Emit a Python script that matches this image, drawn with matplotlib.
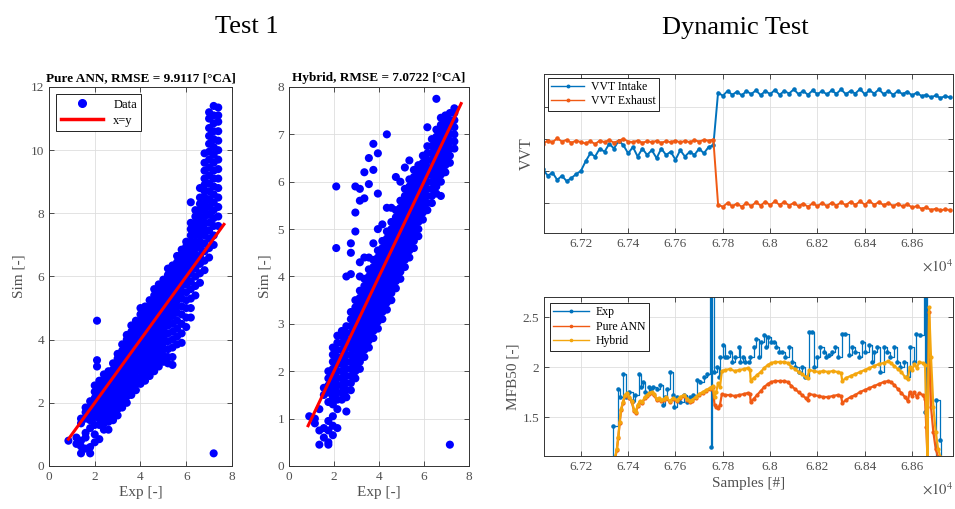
import numpy as np
import matplotlib
matplotlib.use("Agg")
import matplotlib.pyplot as plt
from matplotlib.lines import Line2D

plt.rcParams['font.family'] = ['Liberation Serif', 'DejaVu Serif']
plt.rcParams['mathtext.fontset'] = 'stix'

# ---------------- data: scatter "Pure ANN" (columns of points: x, list of y) -------------
ann_col_x = [0.85, 1.2, 1.4, 1.6, 1.8, 2.0, 2.1, 2.2, 2.4, 2.6, 2.8, 3.0, 3.2, 3.4, 3.6, 3.8,
             4.0, 4.2, 4.4, 4.6, 4.8, 5.0, 5.2, 5.4, 5.6, 5.8, 6.0, 6.2, 6.4, 6.6, 6.8, 7.0, 7.2, 7.4]
ann_col_y = [
    [0.8],
    [0.7, 0.9],
    [0.4, 0.62, 0.8, 1.35, 1.5],
    [0.55, 0.9, 1.05, 1.5, 1.7, 1.85],
    [0.4, 0.6, 1.2, 1.45, 1.65, 1.85, 2.05],
    [0.75, 1.0, 1.3, 1.55, 1.75, 1.95, 2.15, 2.35, 2.55],
    [3.15, 3.35, 4.6],
    [0.85, 1.3, 1.5, 1.7, 1.9, 2.1, 2.3, 2.5, 2.7],
    [1.15, 1.35, 1.55, 1.75, 1.95, 2.15, 2.35, 2.55, 2.75, 2.9],
    [1.15, 1.4, 1.6, 1.8, 2.0, 2.2, 2.4, 2.6, 2.8, 3.0],
    [1.45, 1.65, 1.85, 2.05, 2.25, 2.45, 2.65, 2.85, 3.05, 3.25],
    [1.6, 1.8, 2.0, 2.2, 2.4, 2.6, 2.8, 3.0, 3.2, 3.4, 3.55],
    [1.85, 2.05, 2.25, 2.45, 2.65, 2.85, 3.05, 3.25, 3.45, 3.65, 3.85],
    [2.0, 2.2, 2.4, 2.6, 2.8, 3.0, 3.2, 3.4, 3.6, 3.8, 4.0, 4.15],
    [2.25, 2.45, 2.65, 2.85, 3.05, 3.25, 3.45, 3.65, 3.85, 4.05, 4.25, 4.45],
    [2.4, 2.6, 2.8, 3.0, 3.2, 3.4, 3.6, 3.8, 4.0, 4.2, 4.4, 4.6],
    [2.6, 2.8, 3.0, 3.2, 3.4, 3.6, 3.8, 4.0, 4.2, 4.4, 4.6, 4.8, 5.0],
    [2.7, 2.9, 3.1, 3.3, 3.5, 3.7, 3.9, 4.1, 4.3, 4.5, 4.7, 4.9, 5.05],
    [2.85, 3.05, 3.25, 3.45, 3.65, 3.85, 4.05, 4.25, 4.45, 4.65, 4.85, 5.05, 5.25],
    [3.0, 3.2, 3.4, 3.6, 3.8, 4.0, 4.2, 4.4, 4.6, 4.8, 5.0, 5.2, 5.4, 5.6],
    [3.15, 3.35, 3.55, 3.75, 3.95, 4.15, 4.35, 4.55, 4.75, 4.95, 5.15, 5.35, 5.55, 5.75],
    [3.3, 3.5, 3.7, 3.9, 4.1, 4.3, 4.5, 4.7, 4.9, 5.1, 5.3, 5.5, 5.7, 5.9],
    [3.25, 3.45, 3.7, 3.95, 4.2, 4.45, 4.65, 4.85, 5.05, 5.25, 5.45, 5.65, 5.85, 6.05, 6.25],
    [3.2, 3.45, 3.75, 4.0, 4.25, 4.5, 4.75, 4.95, 5.15, 5.35, 5.55, 5.75, 5.95, 6.15, 6.35],
    [3.85, 4.1, 4.35, 4.6, 4.85, 5.05, 5.25, 5.45, 5.65, 5.85, 6.05, 6.25, 6.45, 6.65],
    [3.9, 4.2, 4.5, 4.8, 5.05, 5.3, 5.5, 5.7, 5.9, 6.1, 6.3, 6.5, 6.7, 6.85],
    [4.4, 4.7, 5.0, 5.25, 5.5, 5.75, 5.95, 6.15, 6.35, 6.55, 6.75, 6.95, 7.1],
    [4.7, 5.0, 5.3, 5.6, 5.85, 6.1, 6.3, 6.5, 6.7, 6.9, 7.1, 7.3, 7.5, 7.7, 8.35],
    [5.4, 5.7, 6.0, 6.25, 6.5, 6.7, 6.9, 7.1, 7.3, 7.5, 7.7, 7.9, 8.1],
    [5.8, 6.1, 6.4, 6.65, 6.9, 7.1, 7.3, 7.5, 7.7, 7.9, 8.1, 8.3, 8.5, 8.8],
    [6.2, 6.5, 6.8, 7.05, 7.3, 7.5, 7.7, 7.9, 8.1, 8.3, 8.5, 8.7, 8.9, 9.1, 9.35, 9.6, 9.9],
    [6.6, 6.9, 7.2, 7.45, 7.7, 7.95, 8.2, 8.45, 8.7, 8.95, 9.2, 9.45, 9.7, 9.95, 10.2, 10.45,
     10.7, 11.0, 11.2],
    [7.0, 7.3, 7.6, 7.85, 8.1, 8.35, 8.6, 8.85, 9.1, 9.35, 9.6, 9.85, 10.1, 10.35, 10.6, 10.85,
     11.1, 11.4, 0.4],
    [7.6, 7.9, 8.2, 8.5, 8.8, 9.1, 9.4, 9.7, 10.0, 10.3, 10.6, 10.9, 11.1, 11.35],
]

# ---------------- data: scatter "Hybrid" ----------------
hyb_col_x = [0.9, 1.15, 1.35, 1.55, 1.75, 1.95, 2.1, 2.15, 2.35, 2.55, 2.75, 2.95, 3.15, 3.35,
             3.55, 3.75, 3.95, 4.15, 4.35, 4.55, 4.75, 4.95, 5.15, 5.35, 5.55, 5.75, 5.95, 6.15,
             6.35, 6.55, 6.75, 6.95, 7.15, 7.35]
hyb_col_y = [
    [1.05],
    [0.9, 1.0],
    [0.45, 0.75, 1.2],
    [0.6, 0.8, 1.5, 1.65],
    [0.45, 0.5, 0.75, 0.95, 1.35, 1.55, 1.7, 1.85, 2.0],
    [0.65, 0.85, 1.05, 1.3, 1.45, 1.6, 1.75, 1.9, 2.05, 2.2, 2.35, 2.5],
    [4.6, 5.9],
    [0.8, 1.2, 1.4, 1.55, 1.7, 1.85, 2.0, 2.15, 2.3, 2.45, 2.6, 2.75],
    [1.4, 1.55, 1.7, 1.85, 2.0, 2.15, 2.3, 2.45, 2.6, 2.75, 2.85],
    [1.15, 1.45, 1.6, 1.75, 1.9, 2.05, 2.2, 2.35, 2.5, 2.65, 2.8, 2.95, 4.0],
    [1.6, 1.75, 1.9, 2.05, 2.2, 2.35, 2.5, 2.65, 2.8, 2.95, 3.1, 3.25, 4.05, 4.5, 4.7],
    [1.85, 2.0, 2.15, 2.3, 2.45, 2.6, 2.75, 2.9, 3.05, 3.2, 3.35, 3.5, 4.95, 5.35, 5.9],
    [2.05, 2.2, 2.35, 2.5, 2.65, 2.8, 2.95, 3.1, 3.25, 3.4, 3.55, 3.7, 4.0, 4.3, 5.6, 5.85],
    [2.3, 2.45, 2.6, 2.75, 2.9, 3.05, 3.2, 3.35, 3.5, 3.65, 3.8, 3.95, 4.4, 5.65, 6.2],
    [2.5, 2.65, 2.8, 2.95, 3.1, 3.25, 3.4, 3.55, 3.7, 3.85, 4.0, 4.15, 4.4, 5.95, 6.5],
    [2.7, 2.85, 3.0, 3.15, 3.3, 3.45, 3.6, 3.75, 3.9, 4.05, 4.2, 4.35, 4.7, 6.25, 6.8],
    [2.9, 3.05, 3.2, 3.35, 3.5, 3.65, 3.8, 3.95, 4.1, 4.25, 4.4, 4.55, 5.0, 5.75, 6.6],
    [3.1, 3.25, 3.4, 3.55, 3.7, 3.85, 4.0, 4.15, 4.3, 4.45, 4.6, 4.75, 5.1],
    [3.3, 3.45, 3.6, 3.75, 3.9, 4.05, 4.2, 4.35, 4.5, 4.65, 4.8, 4.95, 5.45, 7.0],
    [3.5, 3.65, 3.8, 3.95, 4.1, 4.25, 4.4, 4.55, 4.7, 4.85, 5.0, 5.15, 5.45],
    [3.75, 3.9, 4.05, 4.2, 4.35, 4.5, 4.65, 4.8, 4.95, 5.1, 5.25, 5.4, 6.1],
    [3.95, 4.1, 4.25, 4.4, 4.55, 4.7, 4.85, 5.0, 5.15, 5.3, 5.45, 5.6, 6.0],
    [4.2, 4.35, 4.5, 4.65, 4.8, 4.95, 5.1, 5.25, 5.4, 5.55, 5.7, 5.85, 6.3],
    [4.4, 4.55, 4.7, 4.85, 5.0, 5.15, 5.3, 5.45, 5.6, 5.75, 5.9, 6.05, 6.45],
    [4.6, 4.75, 4.9, 5.05, 5.2, 5.35, 5.5, 5.65, 5.8, 5.95, 6.1, 6.25],
    [4.85, 5.0, 5.15, 5.3, 5.45, 5.6, 5.75, 5.9, 6.05, 6.2, 6.35],
    [5.2, 5.35, 5.5, 5.65, 5.8, 5.95, 6.1, 6.25, 6.4, 6.55],
    [5.4, 5.55, 5.7, 5.85, 6.0, 6.15, 6.3, 6.45, 6.6, 6.75, 7.15],
    [5.55, 5.7, 5.85, 6.0, 6.15, 6.3, 6.45, 6.6, 6.75, 6.9],
    [5.75, 5.9, 6.05, 6.2, 6.35, 6.5, 6.65, 6.8, 6.95, 7.1, 7.75],
    [5.7, 6.0, 6.15, 6.3, 6.45, 6.6, 6.75, 6.9, 7.05, 7.2, 7.35],
    [6.2, 6.35, 6.5, 6.65, 6.8, 6.95, 7.1, 7.25, 7.4],
    [6.4, 6.55, 6.7, 6.85, 7.0, 7.15, 7.3, 7.45, 0.45],
    [6.7, 6.85, 7.0, 7.15, 7.3, 7.45, 7.55],
]

ref_line = [0.85, 7.65]   # x = y reference line endpoints

# ---------------- data: VVT (one value every 20 samples from 67040) ----------------
vvt_start, vvt_step = 67040, 20
vvt_intake = [2.05, 1.85, 1.95, 1.72, 1.85, 1.68, 1.78, 1.9, 2.0,
              2.3, 2.55, 2.45, 2.7, 2.6, 2.85, 2.7, 2.95, 2.8,
              2.55, 2.75, 2.45, 2.7, 2.5, 2.65, 2.4, 2.7, 2.5, 2.6, 2.35, 2.65, 2.45, 2.6, 2.5,
              2.7, 2.55, 2.75, 2.8,
              4.45, 4.35, 4.5, 4.38, 4.48, 4.36, 4.5, 4.4, 4.52, 4.37, 4.5, 4.4, 4.53, 4.38,
              4.5, 4.42, 4.55, 4.4, 4.5, 4.38, 4.52, 4.4, 4.5, 4.39, 4.52, 4.41, 4.55, 4.4,
              4.5, 4.42, 4.56, 4.4, 4.52, 4.42, 4.55, 4.4, 4.5, 4.38, 4.5, 4.4, 4.48, 4.36,
              4.45, 4.34, 4.38, 4.3, 4.36, 4.28, 4.34, 4.3]
vvt_exhaust = [2.85, 2.95, 2.9, 3.02, 2.92, 2.97, 2.88, 2.95, 2.9, 2.86, 2.93, 2.84, 2.95,
               2.9, 2.97, 2.88, 2.95, 3.0, 2.92, 2.9, 2.95, 2.88, 2.93, 2.9, 2.94, 2.88, 2.93,
               2.9, 2.95, 2.89, 2.94, 2.9, 2.96, 2.92, 2.97, 2.95, 2.98,
               0.95, 0.88, 1.0, 0.9, 0.98, 0.88, 1.0, 0.9, 1.02, 0.92, 1.04, 0.93, 1.05, 0.94,
               1.03, 0.92, 1.0, 0.9, 0.98, 0.88, 0.99, 0.9, 1.0, 0.9, 1.01, 0.92, 1.02, 0.93,
               1.04, 0.94, 1.05, 0.95, 1.06, 0.94, 1.03, 0.93, 1.0, 0.9, 0.98, 0.89, 0.96, 0.86,
               0.9, 0.82, 0.86, 0.78, 0.82, 0.77, 0.8, 0.78]

# ---------------- data: MFB50 ----------------
exp_x = [67330, 67335, 67356, 67366, 67378, 67392, 67402, 67420, 67430, 67444, 67454, 67462,
         67472, 67486, 67496, 67507, 67521, 67535, 67547, 67557, 67566, 67578, 67589, 67595,
         67606, 67620, 67634, 67648, 67662, 67676, 67690, 67705, 67719, 67733, 67744, 67750,
         67754, 67761, 67775, 67782, 67789, 67800, 67810, 67817, 67829, 67838, 67853, 67867,
         67874, 67885, 67895, 67909, 67916, 67930, 67941, 67951, 67961, 67972, 67984, 67993,
         68003, 68015, 68026, 68036, 68050, 68064, 68078, 68092, 68106, 68120, 68134, 68149,
         68163, 68177, 68187, 68198, 68212, 68226, 68237, 68247, 68261, 68275, 68289, 68304,
         68318, 68332, 68346, 68360, 68374, 68388, 68402, 68416, 68430, 68437, 68452, 68466,
         68480, 68494, 68508, 68522, 68536, 68550, 68564, 68578, 68593, 68607, 68618, 68635,
         68650, 68656, 68660, 68664, 68700, 68716, 68722]
exp_y = [1.05, 1.41, 1.78, 1.70, 1.93, 1.70, 1.75, 1.66, 1.72, 1.93, 1.80, 1.85, 1.75, 1.80,
         1.78, 1.80, 1.78, 1.82, 1.62, 1.70, 1.78, 1.95, 1.72, 1.60, 1.70, 1.65, 1.72, 1.65,
         1.70, 1.72, 1.87, 1.85, 1.90, 1.93, 2.80, 1.20, 2.80,
         1.95, 2.00, 1.90, 2.10, 2.22, 2.10, 2.10, 2.15, 2.05, 2.10, 2.20, 2.05, 2.10, 2.05,
         2.05, 2.10, 2.20, 2.28, 2.10, 2.25, 2.32, 2.20, 2.30, 2.25, 2.25, 2.20, 2.15, 2.15,
         2.10, 2.20, 2.05, 2.00, 1.95, 2.00, 1.90, 2.35, 2.35, 2.00, 2.10, 2.20, 2.15, 2.10,
         2.12, 2.15, 2.20, 2.10, 2.33, 2.33, 2.12, 2.20, 2.15, 2.10, 2.25, 2.15, 2.22, 2.05,
         2.15, 2.20, 1.95, 2.20, 2.15, 2.10, 2.20, 2.05, 2.00, 2.05, 1.90, 2.20, 2.05, 2.33,
         2.32, 2.80, 1.55, 2.80, 1.05, 1.67, 1.27, 1.05]

model_x = [67345, 67352, 67358, 67364, 67370, 67378, 67386, 67395, 67405, 67415, 67425, 67432,
           67440, 67450, 67460, 67470, 67480, 67490, 67500, 67510, 67520, 67530, 67540, 67550,
           67560, 67575, 67590, 67605, 67620, 67635, 67650, 67660, 67670, 67685, 67700, 67715,
           67730, 67745, 67758, 67765, 67772, 67780, 67788, 67796, 67810, 67830, 67850, 67870,
           67890, 67905, 67915, 67918, 67930, 67945, 67960, 67975, 67990, 68005, 68020, 68040,
           68060, 68075, 68090, 68105, 68120, 68135, 68150, 68158, 68165, 68185, 68205, 68225,
           68245, 68265, 68285, 68300, 68305, 68320, 68340, 68360, 68380, 68400, 68420, 68440,
           68460, 68480, 68500, 68510, 68525, 68540, 68555, 68570, 68582, 68590, 68600, 68610,
           68620, 68630, 68645, 68655, 68660, 68665, 68672, 68680, 68690, 68700, 68710, 68720]
hybrid_y = [1.10, 1.18, 1.30, 1.45, 1.58, 1.65, 1.72, 1.74, 1.70, 1.66, 1.57, 1.55,
            1.62, 1.66, 1.65, 1.70, 1.72, 1.74, 1.75, 1.73, 1.68, 1.69, 1.67, 1.68,
            1.70, 1.66, 1.69, 1.67, 1.70, 1.72, 1.68, 1.66, 1.67, 1.70, 1.73, 1.75,
            1.77, 1.79, 1.81, 1.70, 1.75, 1.84, 1.80, 1.96, 1.97, 1.98, 1.96, 1.97,
            1.98, 1.99, 1.97, 1.86, 1.89, 1.92, 1.95, 1.99, 2.02, 2.04, 2.05, 2.05,
            2.05, 2.04, 2.00, 1.98, 1.95, 1.93, 1.90, 1.89, 1.97, 1.96, 1.95, 1.96,
            1.95, 1.96, 1.95, 1.94, 1.86, 1.89, 1.91, 1.93, 1.95, 1.97, 1.99, 2.01,
            2.03, 2.04, 2.06, 2.04, 2.01, 1.98, 1.95, 1.90, 1.88, 2.00, 1.97, 2.03,
            1.99, 2.05, 2.04, 2.02, 1.55, 1.10, 2.60, 2.10, 1.60, 1.35, 1.18, 1.10]
ann_y = [1.09, 1.17, 1.29, 1.44, 1.57, 1.64, 1.71, 1.73, 1.69, 1.65, 1.56, 1.54,
         1.61, 1.65, 1.64, 1.69, 1.71, 1.73, 1.74, 1.72, 1.67, 1.68, 1.66, 1.67,
         1.69, 1.65, 1.68, 1.66, 1.69, 1.71, 1.67, 1.65, 1.66, 1.69, 1.72, 1.74,
         1.76, 1.78, 1.80, 1.62, 1.60, 1.59, 1.62, 1.73, 1.72, 1.72, 1.71, 1.72,
         1.73, 1.74, 1.73, 1.65, 1.68, 1.72, 1.76, 1.80, 1.83, 1.85, 1.86, 1.86,
         1.86, 1.85, 1.81, 1.78, 1.75, 1.72, 1.69, 1.67, 1.73, 1.72, 1.71, 1.70,
         1.70, 1.71, 1.72, 1.71, 1.64, 1.67, 1.70, 1.72, 1.75, 1.77, 1.79, 1.81,
         1.83, 1.85, 1.86, 1.85, 1.82, 1.78, 1.74, 1.70, 1.66, 1.75, 1.71, 1.75,
         1.70, 1.74, 1.72, 1.68, 1.40, 1.10, 2.55, 1.60, 1.35, 1.18, 1.10, 1.10]

x_ticks = [67200, 67400, 67600, 67800, 68000, 68200, 68400, 68600]

# ---------------- styling ----------------
C_BLUE = '#0072BD'
C_ORANGE = '#F05A14'
C_YELLOW = '#F4A60E'
AX_COL = '#333333'
TICK_COL = '#505050'

fig = plt.figure(figsize=(9.55, 5.09), dpi=100)


def style_axes(ax, tick_size=9.5):
    ax.grid(True, color='#DEDEDE', linewidth=0.6)
    ax.set_axisbelow(True)
    ax.tick_params(direction='in', top=True, right=True, length=3.5, width=0.6,
                   labelsize=tick_size, colors=AX_COL, labelcolor=TICK_COL)
    for sp in ax.spines.values():
        sp.set_color(AX_COL)
        sp.set_linewidth(0.7)


def flatten(cx, cy):
    xs, ys = [], []
    for x, col in zip(cx, cy):
        for y in col:
            xs.append(x)
            ys.append(y)
    return xs, ys


def scatter_panel(rect, cx, cy, ylim, yticks, title):
    ax = fig.add_axes(rect)
    xs, ys = flatten(cx, cy)
    ax.scatter(xs, ys, s=34, color='#0000FF', edgecolors='none', zorder=3, label='Data')
    ax.plot(ref_line, ref_line, color='#FF0000', lw=2.2, zorder=4, label='x=y')
    ax.set_xlim(0, 8)
    ax.set_ylim(*ylim)
    ax.set_xticks([0, 2, 4, 6, 8])
    ax.set_yticks(yticks)
    style_axes(ax)
    ax.set_xlabel('Exp [-]', fontsize=11, color=TICK_COL, labelpad=2)
    ax.set_ylabel('Sim [-]', fontsize=11, color=TICK_COL, labelpad=4)
    ax.set_title(title, fontsize=9.5, fontweight='bold', pad=4)
    return ax


ax1 = scatter_panel([0.0513, 0.0845, 0.1916, 0.7446], ann_col_x, ann_col_y, (0, 12),
                    [0, 2, 4, 6, 8, 10, 12], 'Pure ANN, RMSE = 9.9117 [°CA]')
leg_handles = [Line2D([], [], marker='o', color='#0000FF', linestyle='none', markersize=5.5),
               Line2D([], [], color='#FF0000', lw=2.5)]
lg = ax1.legend(leg_handles, ['Data', 'x=y'], loc='upper left', fontsize=9,
                handlelength=3.4, fancybox=False, edgecolor='black', framealpha=1,
                borderaxespad=0.6, borderpad=0.35, labelspacing=0.3, handletextpad=0.8)
lg.get_frame().set_linewidth(0.6)

ax2 = scatter_panel([0.3026, 0.0845, 0.1885, 0.7446], hyb_col_x, hyb_col_y, (0, 8),
                    [0, 1, 2, 3, 4, 5, 6, 7, 8], 'Hybrid, RMSE = 7.0722 [°CA]')


def fmt_ticks(ax):
    ax.set_xticks(x_ticks)
    ax.set_xticklabels([f'{v / 1e4:g}' for v in x_ticks])
    ax.text(1.0, -0.21, r'$\times10^{4}$', transform=ax.transAxes, ha='right', va='center',
            fontsize=10.5, color=TICK_COL)


# VVT panel
ax3 = fig.add_axes([0.5696, 0.5422, 0.4283, 0.3124])
vx_in = [vvt_start + vvt_step * i for i in range(len(vvt_intake))]
vx_ex = [vvt_start + vvt_step * i for i in range(len(vvt_exhaust))]
ax3.plot(vx_in, vvt_intake, color=C_BLUE, lw=1.4, marker='.', markersize=4.5,
         label='VVT Intake')
ax3.plot(vx_ex, vvt_exhaust, color=C_ORANGE, lw=1.4, marker='.', markersize=4.5,
         label='VVT Exhaust')
ax3.set_xlim(67044, 68773)
ax3.set_ylim(0.06, 5.03)
ax3.set_yticks([1, 2, 3, 4])
ax3.set_yticklabels([])
fmt_ticks(ax3)
style_axes(ax3)
ax3.set_ylabel('VVT', fontsize=11.5, color=TICK_COL, labelpad=3)
lg3 = ax3.legend(loc='upper left', fontsize=8.5, fancybox=False, edgecolor='black',
                 framealpha=1, borderaxespad=0.3, borderpad=0.3, labelspacing=0.2,
                 handlelength=2.8, handletextpad=0.6, markerscale=0.8)
lg3.get_frame().set_linewidth(0.6)
for h in lg3.legend_handles:
    h.set_linewidth(1.0)

# MFB50 panel
ax4 = fig.add_axes([0.5696, 0.1041, 0.4283, 0.3124])
ax4.plot(exp_x, exp_y, color=C_BLUE, lw=0.9, marker='.', markersize=4.5,
         drawstyle='steps-post', label='Exp')
ax4.plot(model_x, ann_y, color=C_ORANGE, lw=1.6, marker='.', markersize=4, label='Pure ANN')
ax4.plot(model_x, hybrid_y, color=C_YELLOW, lw=1.6, marker='.', markersize=4, label='Hybrid')
ax4.set_xlim(67044, 68773)
ax4.set_ylim(1.11, 2.70)
ax4.set_yticks([1.5, 2, 2.5])
ax4.set_yticklabels(['1.5', '2', '2.5'])
fmt_ticks(ax4)
style_axes(ax4)
ax4.set_ylabel('MFB50 [-]', fontsize=11, color=TICK_COL, labelpad=2)
ax4.set_xlabel('Samples [#]', fontsize=11, color=TICK_COL, labelpad=3)
lg4 = ax4.legend(loc='upper left', fontsize=8.5, fancybox=False, edgecolor='black',
                 framealpha=1, borderaxespad=0.5, borderpad=0.3, labelspacing=0.2,
                 handlelength=3.0, handletextpad=0.6, markerscale=0.8)
lg4.get_frame().set_linewidth(0.6)
for h in lg4.legend_handles:
    h.set_linewidth(1.0)

# Group titles
fig.text(247 / 955, 1 - 27 / 509, 'Test 1', ha='center', va='center', fontsize=19)
fig.text(735 / 955, 1 - 28 / 509, 'Dynamic Test', ha='center', va='center', fontsize=19)

fig.savefig('out.png', dpi=100)
